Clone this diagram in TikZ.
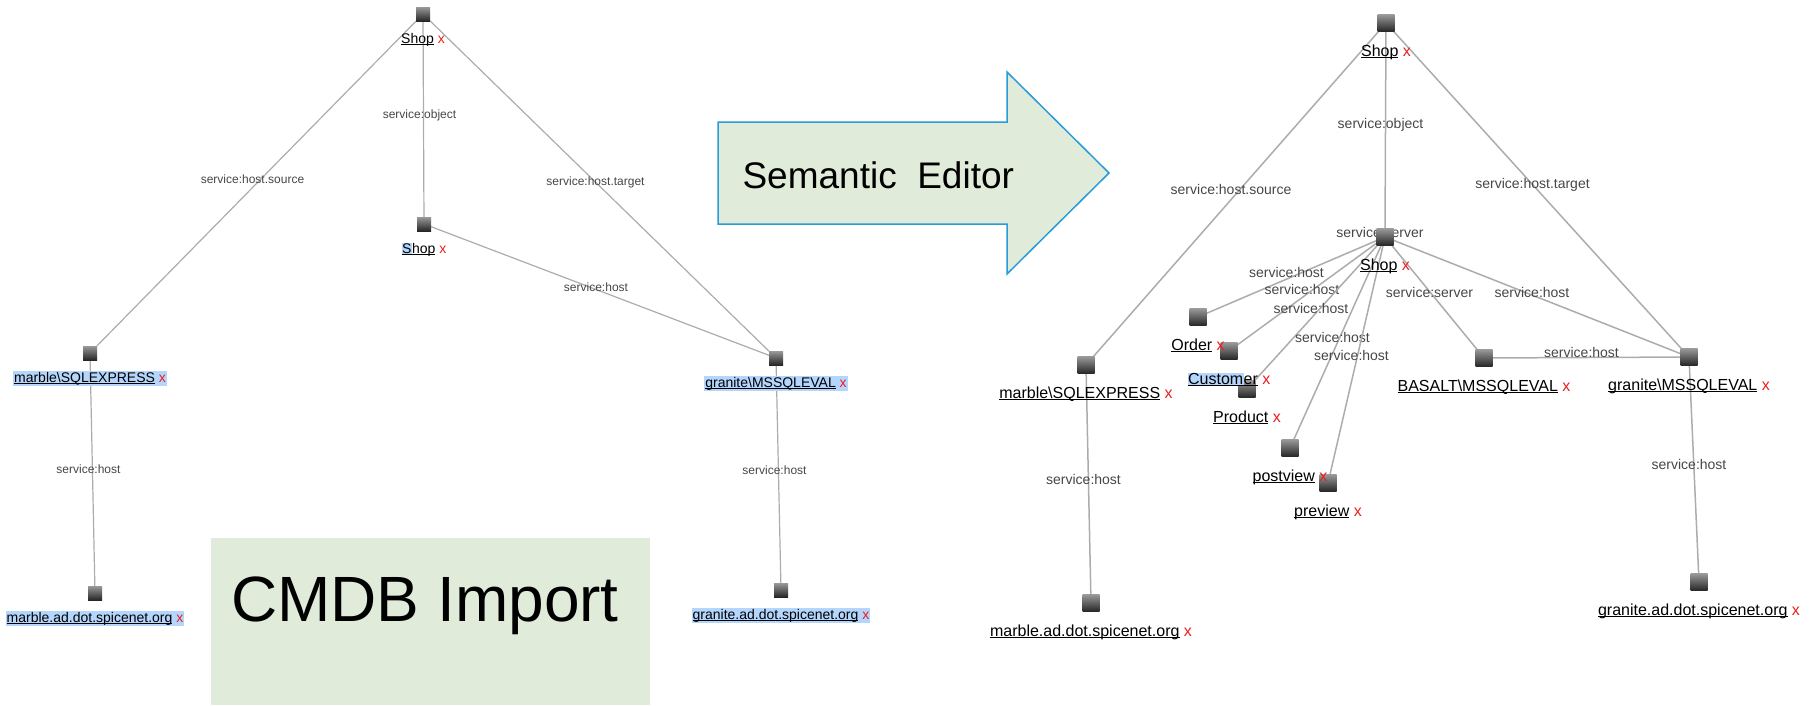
\documentclass[tikz,border=0pt]{standalone}
\usepackage{fontspec}
\setmainfont{Liberation Sans}
\usetikzlibrary{positioning,backgrounds}

\definecolor{boxgreen}{RGB}{224,235,218}
\definecolor{arrowblue}{RGB}{40,155,218}
\definecolor{edgegray}{RGB}{172,172,172}
\definecolor{lblgray}{RGB}{70,70,70}
\definecolor{hlblue}{RGB}{180,213,252}
\definecolor{xred}{RGB}{235,30,30}

% underlined name and the red delete mark
\newcommand{\uln}[1]{\setbox0\hbox{#1}\rlap{\rule[-1.6pt]{\wd0}{0.8pt}}\box0\relax}
\newcommand{\rmx}{{\color{xred}x}}
\newcommand{\hlpart}[1]{{\fboxsep=0.5pt\colorbox{hlblue}{#1}}}

\tikzset{
  ci/.style={rectangle,minimum size=14pt,inner sep=0pt,outer sep=0pt,
    top color=black!40,bottom color=black!85},
  bigci/.style={ci,minimum size=17pt},
  cilbl/.style={font=\fontsize{14}{16}\selectfont,inner sep=1pt,
    text height=10pt,text depth=3pt},
  bigcilbl/.style={font=\fontsize{16}{18}\selectfont,inner sep=1pt,
    text height=11.5pt,text depth=3.5pt},
}

\begin{document}
\begin{tikzpicture}[x=1pt,y=-1pt]
\useasboundingbox (0,0) rectangle (1816,705);

% CMDB import graph
\begin{scope}[every node/.style={ci}]
  \node (shopA)      at (423,14)  {};
  \node (shopB)      at (424,224) {};
  \node (marbleL)    at (90,353)  {};
  \node (graniteL)   at (776,358) {};
  \node (marbleadL)  at (95,593)  {};
  \node (graniteadL) at (781,590) {};
\end{scope}

\begin{scope}[every node/.style={cilbl}]
  \node [below=11pt of shopA] (shopAl) {\uln{Shop} \rmx};
  \node [below=11pt of shopB] (shopBl) {\uln{\hlpart{S}hop} \rmx};
  \node [below=11pt of marbleL,fill=hlblue] (marbleLl) {\uln{marble\textbackslash SQLEXPRESS} \rmx};
  \node [below=11pt of graniteL,fill=hlblue] (graniteLl) {\uln{granite\textbackslash MSSQLEVAL} \rmx};
  \node [below=11pt of marbleadL,fill=hlblue] (marbleadLl) {\uln{marble.ad.dot.spicenet.org} \rmx};
  \node [below=11pt of graniteadL,fill=hlblue] (graniteadLl) {\uln{granite.ad.dot.spicenet.org} \rmx};
\end{scope}

\begin{pgfonlayer}{background}
\begin{scope}[every node/.style={font=\fontsize{12}{14}\selectfont,text=lblgray,xshift=-4pt,yshift=4pt}]
  \begin{scope}[every edge/.style={draw=edgegray,line width=1.2pt}]
    \path (shopA) edge node {service:host.source} (marbleL);
    \path (shopA) edge node {service:object} (shopB);
    \path (shopA) edge node {service:host.target} (graniteL);
    \path (shopB) edge node {service:host} (graniteL);
    \path (marbleL) edge node {service:host} (marbleadL);
    \path (graniteL) edge node {service:host} (graniteadL);
  \end{scope}
\end{scope}
\end{pgfonlayer}

% Semantic editor graph
\begin{scope}[every node/.style={bigci}]
  \node (shopR)      at (1386,23)  {};
  \node (shopS)      at (1385,237) {};
  \node (marbleR)    at (1086,365) {};
  \node (orderR)     at (1198,317) {};
  \node (customerR)  at (1229,351) {};
  \node (productR)   at (1247,389) {};
  \node (postviewR)  at (1290,448) {};
  \node (previewR)   at (1328,483) {};
  \node (basaltR)    at (1484,358) {};
  \node (graniteR)   at (1689,357) {};
  \node (marbleadR)  at (1091,603) {};
  \node (graniteadR) at (1699,582) {};
\end{scope}

\begin{scope}[every node/.style={bigcilbl}]
  \node [below=12pt of shopR] (shopRl) {\uln{Shop} \rmx};
  \node [below=12pt of shopS] (shopSl) {\uln{Shop} \rmx};
  \node [below=12pt of marbleR] (marbleRl) {\uln{marble\textbackslash SQLEXPRESS} \rmx};
  \node [below=12pt of orderR] (orderRl) {\uln{Order} \rmx};
  \node [below=12pt of customerR] (customerRl) {\uln{\hlpart{Custom}er} \rmx};
  \node [below=12pt of productR] (productRl) {\uln{Product} \rmx};
  \node [below=12pt of postviewR] (postviewRl) {\uln{postview} \rmx};
  \node [below=12pt of previewR] (previewRl) {\uln{preview} \rmx};
  \node [below=12pt of basaltR] (basaltRl) {\uln{BASALT\textbackslash MSSQLEVAL} \rmx};
  \node [below=12pt of graniteR] (graniteRl) {\uln{granite\textbackslash MSSQLEVAL} \rmx};
  \node [below=12pt of marbleadR] (marbleadRl) {\uln{marble.ad.dot.spicenet.org} \rmx};
  \node [below=12pt of graniteadR] (graniteadRl) {\uln{granite.ad.dot.spicenet.org} \rmx};
\end{scope}

\begin{pgfonlayer}{background}
\begin{scope}[every node/.style={font=\fontsize{14}{16}\selectfont,text=lblgray,xshift=-5pt,yshift=5pt}]
  \node (srvlbl) at (shopS) {service:server};
  \begin{scope}[every edge/.style={draw=edgegray,line width=1.5pt}]
    \path (shopR) edge node {service:host.source} (marbleR);
    \path (shopR) edge node {service:object} (shopS);
    \path (shopR) edge node {service:host.target} (graniteR);
    \path (shopS) edge node {service:host} (orderR);
    \path (shopS) edge node {service:host} (customerR);
    \path (shopS) edge node {service:host} (productR);
    \path (shopS) edge node {service:host} (postviewR);
    \path (shopS) edge node {service:host} (previewR);
    \path (shopS) edge node {service:server} (basaltR);
    \path (shopS) edge node {service:host} (graniteR);
    \path (basaltR) edge node {service:host} (graniteR);
    \path (marbleR) edge node {service:host} (marbleadR);
    \path (graniteR) edge node {service:host} (graniteadR);
  \end{scope}
\end{scope}
\end{pgfonlayer}

% captions
\fill[boxgreen] (211,538) rectangle (650,705);
\node (cmdb) [anchor=base,font=\fontsize{64}{70}\selectfont] at (425,621) {CMDB Import};
\draw[arrowblue,fill=boxgreen,line width=1.5pt] (718,122) -- (1007,122) -- (1007,72)
  -- (1109,173) -- (1007,274) -- (1007,224) -- (718,224) -- cycle;
\node (sem) [anchor=base west,font=\fontsize{37}{40}\selectfont] at (739,188) {Semantic~~Editor};

\end{tikzpicture}
\end{document}
